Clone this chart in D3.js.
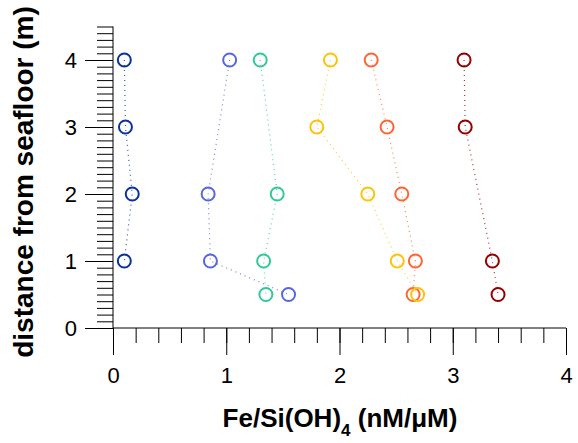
<!doctype html>
<html lang="en">
  <head>
    <meta charset="utf-8" />
    <title>Fe/Si(OH)4 profiles</title>
    <script src="https://d3js.org/d3.v7.min.js"></script>
    <style>
      body { margin: 0; background: #fff; }
      svg { font-family: "Liberation Sans", Arial, sans-serif; }
    </style>
  </head>
  <body>
    <svg id="main" width="578" height="443"></svg>
    <script>
      // distance from seafloor (m) for each sample
      const depths = [4, 3, 2, 1, 0.5];
      // Fe/Si(OH)4 ratios, null = no sample
      const darkBlue = [0.10, 0.11, 0.17, 0.10, null];
      const midBlue = [1.03, null, 0.84, 0.86, 1.55];
      const green = [1.30, null, 1.45, 1.33, 1.35];
      const orange = [2.28, 2.42, 2.55, 2.67, 2.65];
      const yellow = [1.92, 1.80, 2.25, 2.51, 2.69];
      const darkRed = [3.10, 3.11, null, 3.35, 3.40];

      const seriesList = [
        { values: darkBlue, color: '#0a329c' },
        { values: midBlue, color: '#5668dc' },
        { values: green, color: '#2fcb95' },
        { values: orange, color: '#ff6533' },
        { values: yellow, color: '#ffc20a' },
        { values: darkRed, color: '#960000' },
      ];

      const xTicks = [0, 1, 2, 3, 4];
      const yTicks = [0, 1, 2, 3, 4];

      const svg = d3.select('#main');
      const x = d3.scaleLinear().domain([0, 4]).range([113, 566]);
      const y = d3.scaleLinear().domain([0, 4.5]).range([328, 26.5]);

      // minor ticks
      svg.append('g')
        .attr('transform', `translate(${x(0)},0)`)
        .call(d3.axisLeft(y).tickValues(d3.range(0, 4.51, 0.1)).tickSize(16).tickFormat(''))
        .call((g) => g.select('.domain').remove());
      svg.append('g')
        .attr('transform', `translate(0,${y(0)})`)
        .call(d3.axisBottom(x).tickValues(d3.range(0, 4.01, 0.2)).tickSize(15).tickFormat(''))
        .call((g) => g.select('.domain').remove());

      // major ticks
      svg.append('g')
        .attr('transform', `translate(${x(0)},0)`)
        .call(d3.axisLeft(y).tickValues(yTicks).tickSize(28).tickPadding(8).tickFormat(d3.format('d')))
        .call((g) => g.select('.domain').attr('d', `M0,${y(0)}V${y(4.5)}`));
      svg.append('g')
        .attr('transform', `translate(0,${y(0)})`)
        .call(d3.axisBottom(x).tickValues(xTicks).tickSize(27).tickPadding(12).tickFormat(d3.format('d')))
        .call((g) => g.select('.domain').attr('d', `M${x(0)},0H${x(4)}`));

      svg.selectAll('.tick text').attr('font-size', 22).attr('font-family', '"Liberation Sans", Arial, sans-serif').attr('fill', '#000');
      svg.selectAll('.tick line, .domain').attr('stroke', '#000').attr('stroke-width', 1);

      // axis titles
      const xTitle = svg.append('text')
        .attr('x', 340)
        .attr('y', 427)
        .attr('text-anchor', 'middle')
        .attr('font-size', 26)
        .attr('font-weight', 'bold');
      xTitle.append('tspan').text('Fe/Si(OH)');
      xTitle.append('tspan').attr('font-size', 17).attr('dy', 9).text('4');
      xTitle.append('tspan').attr('dy', -9).text(' (nM/μM)');

      svg.append('text')
        .attr('transform', 'translate(33,182) rotate(-90)')
        .attr('text-anchor', 'middle')
        .attr('font-size', 28)
        .attr('font-weight', 'bold')
        .text('distance from seafloor (m)');

      const line = d3.line()
        .x((d) => x(d.v))
        .y((d) => y(d.depth));

      seriesList.forEach((s) => {
        const pts = depths.map((depth, i) => ({ depth, v: s.values[i] })).filter((d) => d.v !== null);
        svg.append('path')
          .datum(pts)
          .attr('d', line)
          .attr('fill', 'none')
          .attr('stroke', s.color)
          .attr('stroke-width', 1.2)
          .attr('stroke-dasharray', '1,4')
          .attr('opacity', 0.8);
      });

      seriesList.forEach((s) => {
        const pts = depths.map((depth, i) => ({ depth, v: s.values[i] })).filter((d) => d.v !== null);
        svg.append('g')
          .selectAll('circle')
          .data(pts)
          .join('circle')
          .attr('cx', (d) => x(d.v))
          .attr('cy', (d) => y(d.depth))
          .attr('r', 6.5)
          .attr('fill', 'none')
          .attr('stroke', s.color)
          .attr('stroke-width', 2);
      });
    </script>
  </body>
</html>
